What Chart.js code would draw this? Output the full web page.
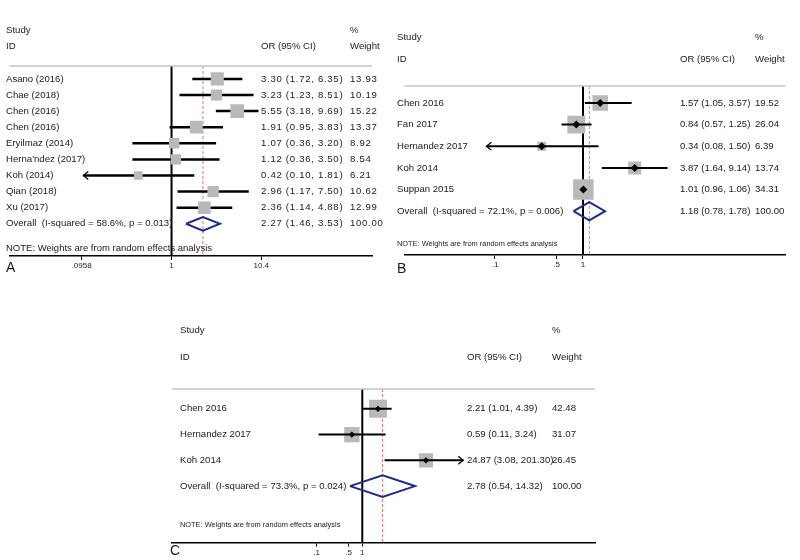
<!DOCTYPE html>
<html>
<head>
<meta charset="utf-8">
<script src="https://cdn.jsdelivr.net/npm/chart.js@4.4.1/dist/chart.umd.min.js"></script>
<style>
  body { margin: 0; background: #fff; }
  #wrap { position: relative; width: 800px; height: 560px; overflow: hidden; }
  canvas { position: absolute; }
</style>
</head>
<body>
<div id="wrap">
  <canvas id="chartA" width="390" height="285" style="left:0;top:0"></canvas>
  <canvas id="chartB" width="410" height="285" style="left:390px;top:0"></canvas>
  <canvas id="chartC" width="460" height="270" style="left:150px;top:290px"></canvas>
</div>
<script>
// ---- panel A ----
const aStudies = ['Asano (2016)', 'Chae (2018)', 'Chen (2016)', 'Chen (2016)', 'Eryilmaz (2014)',
  "Herna'ndez (2017)", 'Koh (2014)', 'Qian (2018)', 'Xu (2017)'];
const aOR = [3.30, 3.23, 5.55, 1.91, 1.07, 1.12, 0.42, 2.96, 2.36];
const aLower = [1.72, 1.23, 3.18, 0.95, 0.36, 0.36, 0.10, 1.17, 1.14];
const aUpper = [6.35, 8.51, 9.69, 3.83, 3.20, 3.50, 1.81, 7.50, 4.88];
const aWeight = [13.93, 10.19, 15.22, 13.37, 8.92, 8.54, 6.21, 10.62, 12.99];
const aOverall = [2.27, 1.46, 3.53];
const aHetero = ['58.6%', '0.013'];
const aTicks = [0.0958, 1, 10.4];
const aTickLabels = ['.0958', '1', '10.4'];

// ---- panel B ----
const bStudies = ['Chen 2016', 'Fan 2017', 'Hernandez 2017', 'Koh 2014', 'Suppan 2015'];
const bOR = [1.57, 0.84, 0.34, 3.87, 1.01];
const bLower = [1.05, 0.57, 0.08, 1.64, 0.96];
const bUpper = [3.57, 1.25, 1.50, 9.14, 1.06];
const bWeight = [19.52, 26.04, 6.39, 13.74, 34.31];
const bOverall = [1.18, 0.78, 1.78];
const bHetero = ['72.1%', '0.006'];
const bTicks = [0.1, 0.5, 1];
const bTickLabels = ['.1', '.5', '1'];

// ---- panel C ----
const cStudies = ['Chen 2016', 'Hernandez 2017', 'Koh 2014'];
const cOR = [2.21, 0.59, 24.87];
const cLower = [1.01, 0.11, 3.08];
const cUpper = [4.39, 3.24, 201.30];
const cWeight = [42.48, 31.07, 26.45];
const cOverall = [2.78, 0.54, 14.32];
const cHetero = ['73.3%', '0.024'];
const cTicks = [0.1, 0.5, 1];
const cTickLabels = ['.1', '.5', '1'];

const FONT = '"Liberation Sans", Arial, sans-serif';
const NOTE = 'NOTE: Weights are from random effects analysis';

function forest(id, p) {
  const n = p.studies.length;
  const [est, lo, hi] = p.overall;
  const clip = v => Math.min(Math.max(v, p.clip[0]), p.clip[1]);
  const [yTop, yBot] = p.yRange;

  const datasets = [];
  datasets.push({ data: [{x: 1, y: yTop}, {x: 1, y: yBot}], showLine: true,
    borderColor: '#000', borderWidth: 2, pointRadius: 0, order: 6 });
  datasets.push({ data: [{x: est, y: yTop}, {x: est, y: yBot}], showLine: true,
    borderColor: '#e07a7a', borderWidth: 1, borderDash: [3, 2], pointRadius: 0, order: 7 });
  p.studies.forEach((s, i) => {
    datasets.push({ data: [{x: clip(p.lower[i]), y: i}, {x: clip(p.upper[i]), y: i}], showLine: true,
      borderColor: '#000', borderWidth: p.ciWidth, pointRadius: 0, order: p.boxOnTop ? 3 : 1 });
  });
  datasets.push({ data: p.or.map((v, i) => ({x: v, y: i})), pointStyle: 'rect',
    pointRadius: p.weight.map(w => p.boxScale * Math.sqrt(w) / Math.SQRT2),
    backgroundColor: '#b9b9b9', pointBackgroundColor: '#b9b9b9', pointBorderWidth: 0, order: 2 });
  if (p.dotRadius) {
    datasets.push({ data: p.or.map((v, i) => ({x: v, y: i})), pointStyle: 'rectRot',
      pointRadius: p.dotRadius, backgroundColor: '#000', pointBackgroundColor: '#000',
      pointBorderWidth: 0, order: 0 });
  }
  datasets.push({ data: [{x: lo, y: n}, {x: est, y: n - 0.42}, {x: hi, y: n}, {x: est, y: n + 0.42}, {x: lo, y: n}],
    showLine: true, borderColor: '#1f2d80', borderWidth: 2, borderJoinStyle: 'miter', pointRadius: 0, order: 0 });

  const textPlugin = {
    id: 'forestText',
    afterDatasetsDraw(chart) {
      const ctx = chart.ctx, xs = chart.scales.x, ys = chart.scales.y;
      ctx.save();
      ctx.strokeStyle = '#000';
      ctx.lineWidth = 1.2;
      p.studies.forEach((s, i) => {
        const y = ys.getPixelForValue(i);
        if (p.lower[i] <= p.clip[0]) {
          const x = xs.getPixelForValue(p.clip[0]);
          ctx.beginPath(); ctx.moveTo(x + 5, y - 4); ctx.lineTo(x, y); ctx.lineTo(x + 5, y + 4); ctx.stroke();
        }
        if (p.upper[i] >= p.clip[1]) {
          const x = xs.getPixelForValue(p.clip[1]);
          ctx.beginPath(); ctx.moveTo(x - 5, y - 4); ctx.lineTo(x, y); ctx.lineTo(x - 5, y + 4); ctx.stroke();
        }
      });
      ctx.restore();
    },
    afterDraw(chart) {
      const ctx = chart.ctx, ys = chart.scales.y, area = chart.chartArea;
      const row = r => ys.getPixelForValue(r);
      ctx.save();
      // top rule
      ctx.strokeStyle = '#c4c4c4';
      ctx.lineWidth = 1.5;
      ctx.beginPath(); ctx.moveTo(area.left, area.top); ctx.lineTo(area.right, area.top); ctx.stroke();

      ctx.fillStyle = '#1a1a1a';
      ctx.textBaseline = 'middle';
      ctx.textAlign = 'left';
      ctx.font = p.fontSize + 'px ' + FONT;
      // headers
      ctx.fillText('Study', p.colName, row(-3.03));
      ctx.fillText('ID', p.colName, row(-2.0));
      ctx.fillText('%', p.colWeight, row(-3.03));
      ctx.fillText('OR (95% CI)', p.colCI, row(-2.0));
      ctx.fillText('Weight', p.colWeight, row(-2.0));
      // rows
      p.studies.forEach((s, i) => ctx.fillText(s, p.colName, row(i)));
      ctx.fillText(`Overall  (I-squared = ${p.hetero[0]}, p = ${p.hetero[1]})`, p.colName, row(n));
      ctx.letterSpacing = p.numSpacing;
      p.studies.forEach((s, i) => {
        const y = row(i);
        ctx.fillText(`${p.or[i].toFixed(2)} (${p.lower[i].toFixed(2)}, ${p.upper[i].toFixed(2)})`, p.colCI, y);
        ctx.fillText(p.weight[i].toFixed(2), p.colWeight, y);
      });
      ctx.fillText(`${est.toFixed(2)} (${lo.toFixed(2)}, ${hi.toFixed(2)})`, p.colCI, row(n));
      ctx.fillText('100.00', p.colWeight, row(n));
      ctx.letterSpacing = '0px';
      ctx.font = p.noteSize + 'px ' + FONT;
      ctx.fillText(NOTE, p.colName, row(n + 1.52));
      // panel letter
      ctx.font = '14px ' + FONT;
      ctx.fillText(p.letter, p.letterX, area.bottom + p.letterDy);
      ctx.restore();
    }
  };

  return new Chart(document.getElementById(id), {
    type: 'scatter',
    data: { datasets },
    options: {
      responsive: false,
      animation: false,
      events: [],
      layout: { padding: p.padding },
      plugins: { legend: { display: false }, tooltip: { enabled: false } },
      scales: {
        x: {
          type: 'logarithmic',
          min: p.xRange[0],
          max: p.xRange[1],
          bounds: 'data',
          afterBuildTicks: scale => { scale.ticks = p.ticks.map(v => ({ value: v })); },
          ticks: {
            autoSkip: false,
            maxRotation: 0,
            padding: 1,
            color: '#222',
            font: { family: FONT, size: 8 },
            callback: (v, i) => p.tickLabels[i]
          },
          grid: { drawOnChartArea: false, drawTicks: true, tickLength: 4, color: '#000', lineWidth: 1 },
          border: { display: true, color: '#000', width: 1.5 }
        },
        y: {
          type: 'linear',
          display: false,
          reverse: true,
          min: yTop,
          max: yBot
        }
      }
    },
    plugins: [textPlugin]
  });
}

forest('chartA', {
  studies: aStudies, or: aOR, lower: aLower, upper: aUpper, weight: aWeight,
  overall: aOverall, hetero: aHetero, ticks: aTicks, tickLabels: aTickLabels,
  clip: [0.1, 10.4], xRange: [0.01463, 187.1], yRange: [-0.8, 11.0],
  padding: { top: 66, left: 2, right: 18, bottom: 13.4 },
  boxScale: 3.5, ciWidth: 2.5, dotRadius: 0, boxOnTop: true,
  colName: 6, colCI: 261, colWeight: 350, fontSize: 9.6, noteSize: 9.5, numSpacing: '0.7px',
  letter: 'A', letterX: 6, letterDy: 12
});

forest('chartB', {
  studies: bStudies, or: bOR, lower: bLower, upper: bUpper, weight: bWeight,
  overall: bOverall, hetero: bHetero, ticks: bTicks, tickLabels: bTickLabels,
  clip: [0.08, 12.5], xRange: [0.00937, 200], yRange: [-0.78, 7.02],
  padding: { top: 86, left: 3, right: 10, bottom: 14.4 },
  boxScale: 3.5, ciWidth: 2, dotRadius: 4, boxOnTop: false,
  colName: 7, colCI: 290, colWeight: 365, fontSize: 9.6, noteSize: 7.4, numSpacing: '0px',
  letter: 'B', letterX: 7, letterDy: 14.5
});

forest('chartC', {
  studies: cStudies, or: cOR, lower: cLower, upper: cUpper, weight: cWeight,
  overall: cOverall, hetero: cHetero, ticks: cTicks, tickLabels: cTickLabels,
  clip: [0.0061, 164], xRange: [0.0000671, 126800], yRange: [-0.77, 5.19],
  padding: { top: 99, left: 22, right: 15, bottom: 1.9 },
  boxScale: 2.75, ciWidth: 2, dotRadius: 3.2, boxOnTop: false,
  colName: 30, colCI: 317, colWeight: 402, fontSize: 9.6, noteSize: 7.4, numSpacing: '0px',
  letter: 'C', letterX: 20, letterDy: 8.5
});
</script>
</body>
</html>
